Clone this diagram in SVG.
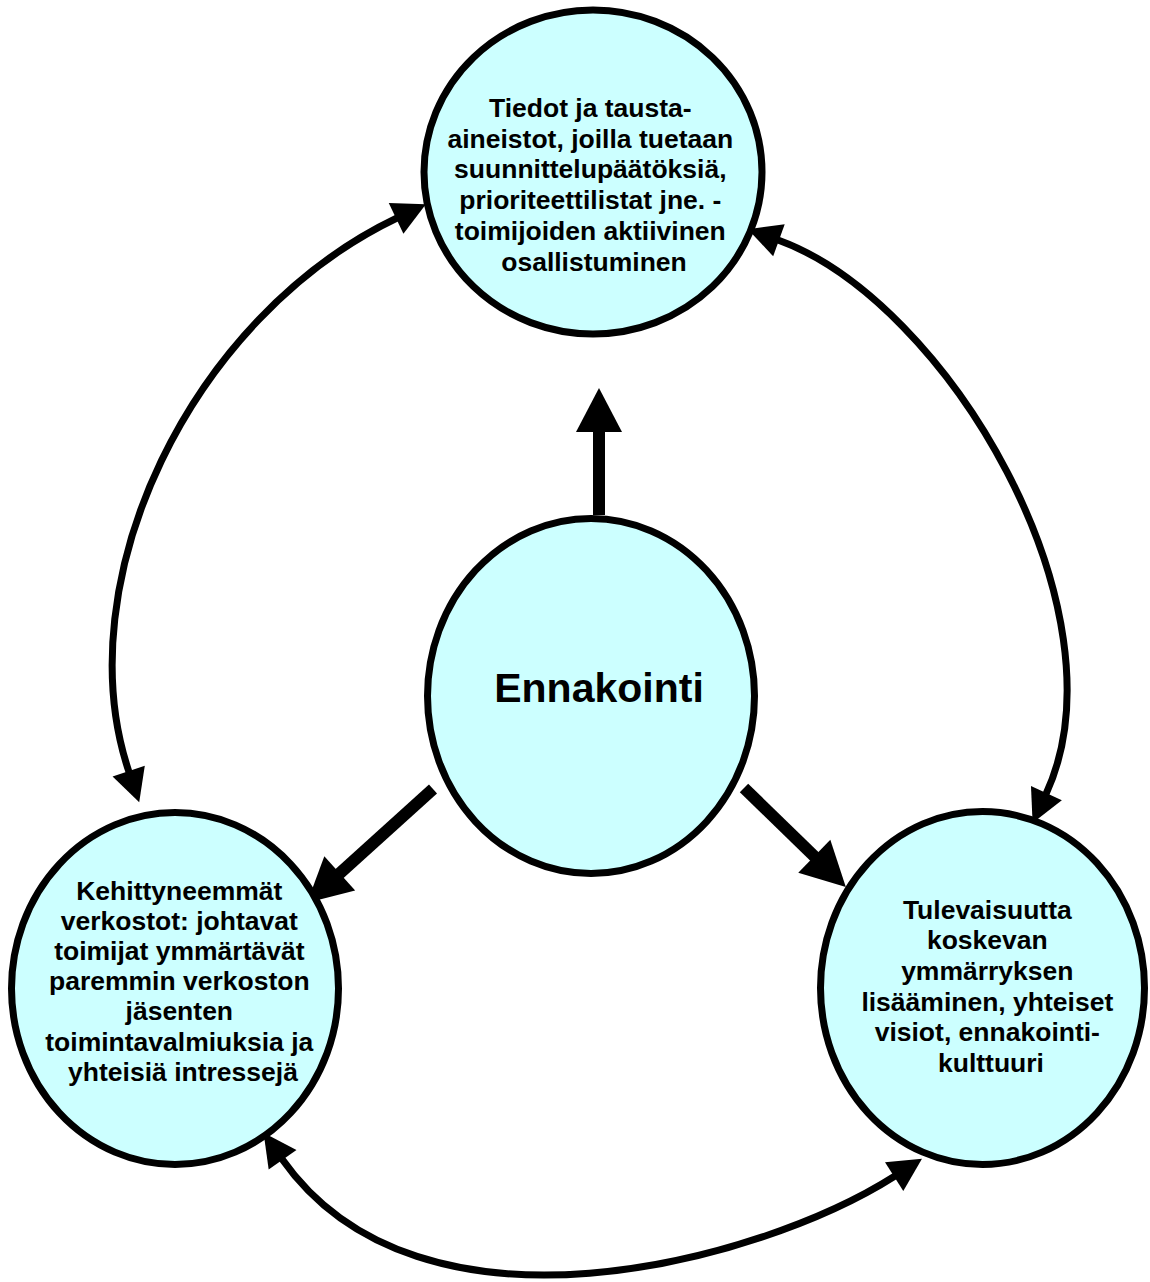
<svg xmlns="http://www.w3.org/2000/svg" width="1150" height="1282" viewBox="0 0 1150 1282">
  <defs>
    <style>
      .node { fill: #CCFFFF; stroke: #000; stroke-width: 7; }
      .label { font-family: "Liberation Sans", Arial, sans-serif; font-weight: bold; font-size: 26.5px; fill: #000; text-anchor: middle; }
      .title { font-family: "Liberation Sans", Arial, sans-serif; font-weight: bold; font-size: 41px; fill: #000; text-anchor: middle; }
      .arc { fill: none; stroke: #000; stroke-width: 7; marker-start: url(#headThin); marker-end: url(#headThin); }
      .thick { fill: none; stroke: #000; stroke-width: 12; marker-end: url(#headThick); }
    </style>
    <marker id="headThin" markerUnits="userSpaceOnUse" markerWidth="33" markerHeight="34" refX="0" refY="17" orient="auto-start-reverse" overflow="visible">
      <path d="M-1,0 L32,17 L-1,34 z" fill="#000"/>
    </marker>
    <marker id="headThick" markerUnits="userSpaceOnUse" markerWidth="44" markerHeight="46" refX="0" refY="23" orient="auto" overflow="visible">
      <path d="M-1,0 L43,23 L-1,46 z" fill="#000"/>
    </marker>
  </defs>

  <rect width="1150" height="1282" fill="#fff"/>

  <!-- connectors -->
  <g id="connectors">
    <path class="thick" d="M599,515 L599,431"/>
    <path class="thick" d="M433,789 L339,874"/>
    <path class="thick" d="M744,788 L815,857"/>
    <path class="arc" d="M397,218 C190,317 65,582 129,772"/>
    <path class="arc" d="M778,240 C947,301 1130,612 1046,794"/>
    <path class="arc" d="M282,1159 C420,1355 760,1262 895,1176"/>
  </g>

  <!-- top node -->
  <g id="node-tiedot">
    <ellipse class="node" cx="593" cy="172" rx="169" ry="162"/>
    <text class="label">
      <tspan x="594" y="117">Tiedot ja tausta-</tspan>
      <tspan x="594" y="147.7">aineistot, joilla tuetaan</tspan>
      <tspan x="594" y="178.4">suunnittelupäätöksiä,</tspan>
      <tspan x="594" y="209.1">prioriteettilistat jne. -</tspan>
      <tspan x="594" y="239.8">toimijoiden aktiivinen</tspan>
      <tspan x="594" y="270.5">osallistuminen</tspan>
    </text>
  </g>

  <!-- centre node -->
  <g id="node-ennakointi">
    <ellipse class="node" cx="591" cy="696" rx="163.5" ry="177.5"/>
    <text class="title" x="599" y="702">Ennakointi</text>
  </g>

  <!-- bottom-left node -->
  <g id="node-verkostot">
    <ellipse class="node" cx="175" cy="988.5" rx="163.5" ry="176"/>
    <text class="label">
      <tspan x="183" y="899.5">Kehittyneemmät</tspan>
      <tspan x="183" y="929.7">verkostot: johtavat</tspan>
      <tspan x="183" y="959.9">toimijat ymmärtävät</tspan>
      <tspan x="183" y="990.1">paremmin verkoston</tspan>
      <tspan x="183" y="1020.3">jäsenten</tspan>
      <tspan x="183" y="1050.5">toimintavalmiuksia ja</tspan>
      <tspan x="183" y="1080.7">yhteisiä intressejä</tspan>
    </text>
  </g>

  <!-- bottom-right node -->
  <g id="node-tulevaisuus">
    <ellipse class="node" cx="982.5" cy="988" rx="162" ry="176.5"/>
    <text class="label">
      <tspan x="991" y="918.5">Tulevaisuutta</tspan>
      <tspan x="991" y="949.2">koskevan</tspan>
      <tspan x="991" y="979.9">ymmärryksen</tspan>
      <tspan x="991" y="1010.6">lisääminen, yhteiset</tspan>
      <tspan x="991" y="1041.3">visiot, ennakointi-</tspan>
      <tspan x="991" y="1072">kulttuuri</tspan>
    </text>
  </g>
</svg>
